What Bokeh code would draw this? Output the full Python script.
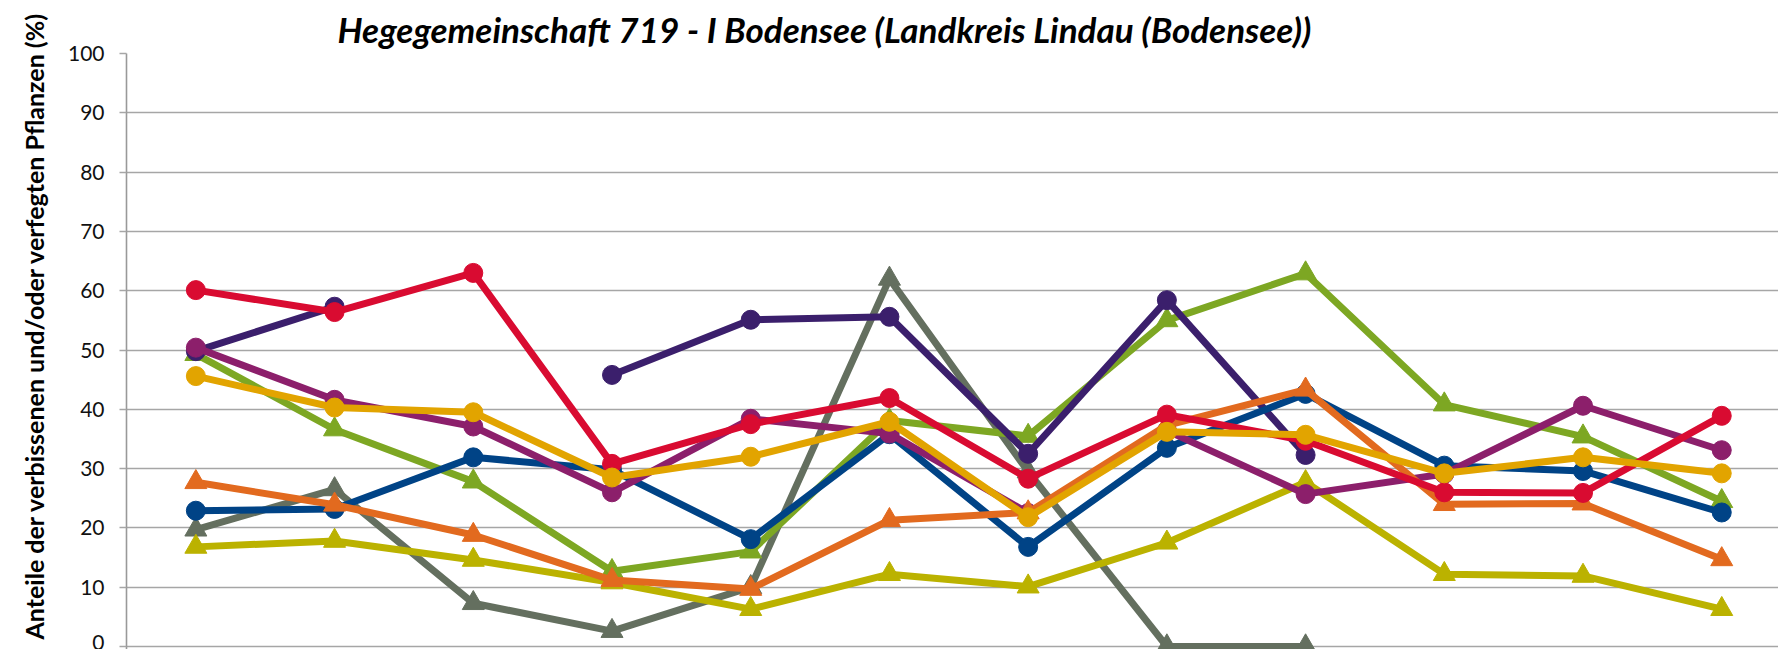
import math
import numpy as np
from bokeh.plotting import figure
from bokeh.models import Range1d, FixedTicker, Title
from bokeh.embed import file_html
from bokeh.resources import INLINE

NaN = float("nan")

title_text = "Hegegemeinschaft 719 - I Bodensee (Landkreis Lindau (Bodensee))"
y_label = "Anteile der verbissenen und/oder verfegten Pflanzen (%)"

# category positions (x-axis labels are cut off in the reference)
categories = list(range(1, 13))
y_ticks = [0, 10, 20, 30, 40, 50, 60, 70, 80, 90, 100]

gray   = [19.7, 26.5, 7.3, 2.6, 10.0, 62.0, 29.5, 0.0, 0.0, NaN, NaN, NaN]
olive  = [16.8, 17.8, 14.6, 10.8, 6.3, 12.2, 10.1, 17.5, 27.7, 12.2, 11.9, 6.3]
green  = [49.3, 36.6, 27.8, 12.7, 16.0, 38.1, 35.5, 55.0, 62.9, 40.8, 35.4, 24.5]
purple = [49.8, 57.3, NaN, 45.8, 55.1, 55.6, 32.5, 58.4, 32.3, NaN, NaN, NaN]
blue   = [22.9, 23.2, 31.9, 29.8, 18.1, 35.8, 16.8, 33.5, 42.6, 30.5, 29.6, 22.6]
plum   = [50.4, 41.6, 37.1, 26.0, 38.4, 35.9, 22.5, 36.4, 25.7, 29.1, 40.6, 33.1]
orange = [27.7, 23.9, 18.8, 11.2, 9.7, 21.3, 22.6, 37.3, 43.3, 24.0, 24.1, 14.7]
red    = [60.1, 56.4, 63.0, 30.8, 37.5, 41.9, 28.3, 39.1, 34.7, 26.0, 25.9, 38.9]
yellow = [45.6, 40.3, 39.5, 28.5, 32.0, 37.9, 21.8, 36.2, 35.7, 29.2, 31.9, 29.2]

series = [
    (gray,   "#646F5F", "triangle"),
    (olive,  "#BBB200", "triangle"),
    (green,  "#7DA723", "triangle"),
    (purple, "#3B1F6C", "circle"),
    (blue,   "#004386", "circle"),
    (plum,   "#8C1F6B", "circle"),
    (orange, "#E26A1F", "triangle"),
    (red,    "#D90B31", "circle"),
    (yellow, "#E2A400", "circle"),
]

W, H = 1778, 649
LEFT, TOP = 125, 53
CAT_W = 138.8
PX10 = 59.3                       # pixels per 10 %
frame_w = W - LEFT
frame_h = H - TOP
x_end = 0.5 + frame_w / CAT_W
y_start = 100 - frame_h / (PX10 / 10)

p = figure(width=W, height=H, output_backend="svg", toolbar_location=None,
           x_range=Range1d(0.5, x_end), y_range=Range1d(y_start, 100),
           x_axis_location=None,
           min_border_left=LEFT, min_border_right=0, min_border_top=TOP, min_border_bottom=0)
p.outline_line_color = None
p.background_fill_color = "white"
p.border_fill_color = "white"
p.xgrid.visible = False
p.ygrid.grid_line_color = "#A6A6A6"
p.ygrid.grid_line_width = 1.6

ax = p.yaxis[0]
ax.ticker = FixedTicker(ticks=y_ticks)
ax.axis_line_color = "#999999"
ax.axis_line_width = 1.6
ax.major_tick_line_color = "#A6A6A6"
ax.major_tick_line_width = 1.6
ax.major_tick_out = 7
ax.major_tick_in = 0
ax.minor_tick_line_color = None
ax.major_label_standoff = 15
ax.major_label_text_font = "Lato"
ax.major_label_text_font_size = "21px"
ax.major_label_text_color = "#111111"

for vals, col, mk in series:
    p.line(categories, vals, line_color=col, line_width=7, line_join="round")
    if mk == "circle":
        p.scatter(categories, vals, marker="circle", size=19, fill_color=col, line_color=col)
    else:
        p.scatter(categories, vals, marker="triangle", size=22, fill_color=col, line_color=col)

# y-axis title on the left, starting just above the bottom edge
p.add_layout(Title(text=y_label, align="left", offset=10, standoff=32,
                   text_font="Lato", text_font_style="bold", text_font_size="25px",
                   text_color="#000000"), "left")

# chart title above the plot
p.add_layout(Title(text=title_text, align="left", offset=211, standoff=7,
                   text_font="Lato", text_font_style="bold italic", text_font_size="35px",
                   text_color="#000000"), "above")

open("out.html", "w").write(file_html(p, INLINE))
